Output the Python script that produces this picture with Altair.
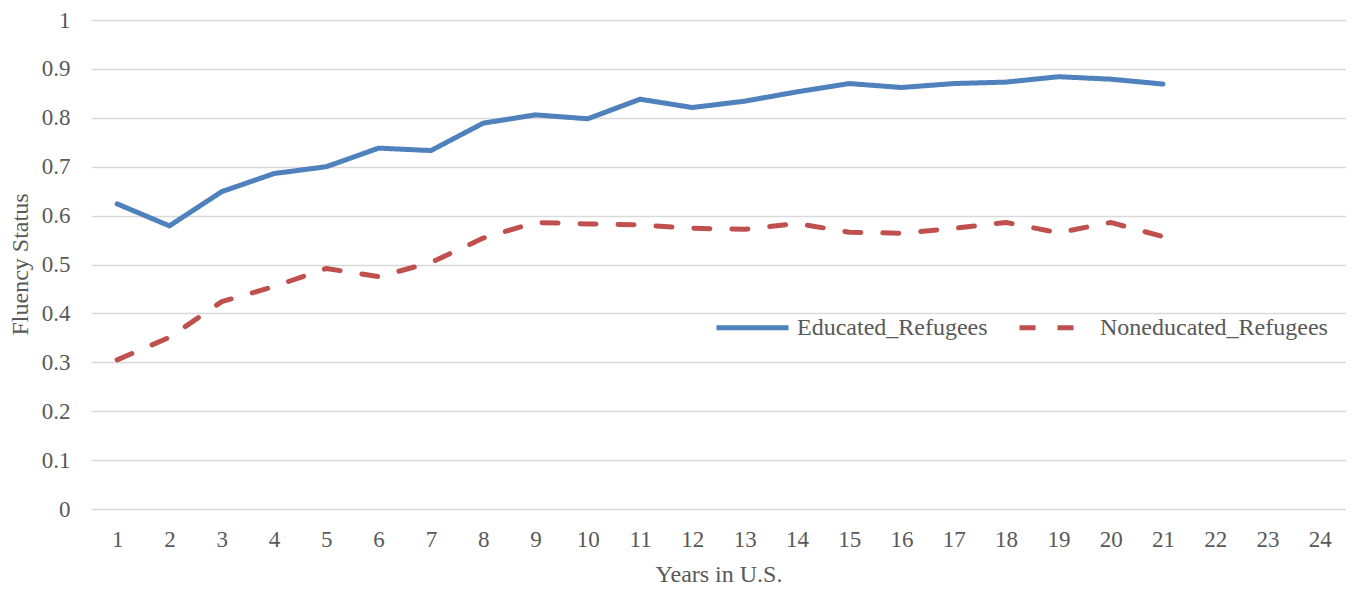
import altair as alt
import pandas as pd

years = list(range(1, 22))
educated = [0.624, 0.579, 0.649, 0.686, 0.700, 0.738, 0.733, 0.789, 0.806, 0.798,
            0.838, 0.821, 0.834, 0.853, 0.870, 0.862, 0.870, 0.873, 0.884, 0.879, 0.869]
noneducated = [0.305, 0.351, 0.424, 0.455, 0.492, 0.475, 0.504, 0.554, 0.586, 0.583,
               0.581, 0.574, 0.572, 0.584, 0.566, 0.564, 0.574, 0.586, 0.565, 0.586, 0.557]
x_ticks = list(range(1, 25))
y_ticks = [0, 0.1, 0.2, 0.3, 0.4, 0.5, 0.6, 0.7, 0.8, 0.9, 1]
series_names = ["Educated_Refugees", "Noneducated_Refugees"]
series_colors = ["#4f81bd", "#c0504d"]
series_dashes = [[1, 0], [16, 22]]

df = pd.DataFrame({
    "year": years + years,
    "value": educated + noneducated,
    "series": [series_names[0]] * len(years) + [series_names[1]] * len(years),
})

FONT = "Liberation Serif"
TXT = "#595959"


def make_legend():
    return alt.Legend(
        title=None,
        orient="none",
        legendX=623,
        legendY=269,
        direction="horizontal",
        padding=0,
        symbolType="stroke",
        symbolSize=5184,
        symbolStrokeWidth=5,
        labelOffset=6,
        columnPadding=21,
        labelFont=FONT,
        labelFontSize=24,
        labelColor=TXT,
        labelLimit=400,
    )


chart = alt.Chart(df).mark_line(strokeWidth=5, strokeCap="round", strokeJoin="round").encode(
    x=alt.X("year:Q",
            scale=alt.Scale(domain=[0.5, 24.5], nice=False, zero=False),
            axis=alt.Axis(values=x_ticks, title="Years in U.S.", grid=False, domain=False,
                          ticks=False, tickSize=0, labelPadding=37, labelBaseline="alphabetic",
                          labelFontSize=23, labelFont=FONT, labelColor=TXT,
                          titleFont=FONT, titleFontSize=24, titleColor=TXT, titleFontWeight="normal",
                          titleBaseline="alphabetic", titleY=72, labelFlush=False, labelOverlap=False)),
    y=alt.Y("value:Q",
            scale=alt.Scale(domain=[0, 1], nice=False),
            axis=alt.Axis(values=y_ticks, format=".1~f", title="Fluency Status", domain=False,
                          ticks=False, tickSize=0, labelPadding=21,
                          gridColor="#d9d9d9", gridWidth=1.5,
                          labelFontSize=23, labelFont=FONT, labelColor=TXT,
                          titleFont=FONT, titleFontSize=24, titleColor=TXT, titleFontWeight="normal",
                          titleBaseline="alphabetic", titleX=-64, titleY=244, titleAngle=270,
                          labelOverlap=False)),
    color=alt.Color("series:N", scale=alt.Scale(domain=series_names, range=series_colors),
                    legend=make_legend()),
    strokeDash=alt.StrokeDash("series:N", scale=alt.Scale(domain=series_names, range=series_dashes),
                              legend=make_legend()),
).properties(
    width=1255,
    height=489,
    background="white",
    autosize=alt.AutoSizeParams(type="none"),
    padding={"left": 83, "top": 12, "right": 0, "bottom": 80},
).configure_view(
    strokeWidth=0, stroke="transparent"
).configure_axis(
    domain=False
).configure_axisX(
    grid=False, domain=False
)

chart.save("out.html", embed_options={"renderer": "svg", "actions": False})
